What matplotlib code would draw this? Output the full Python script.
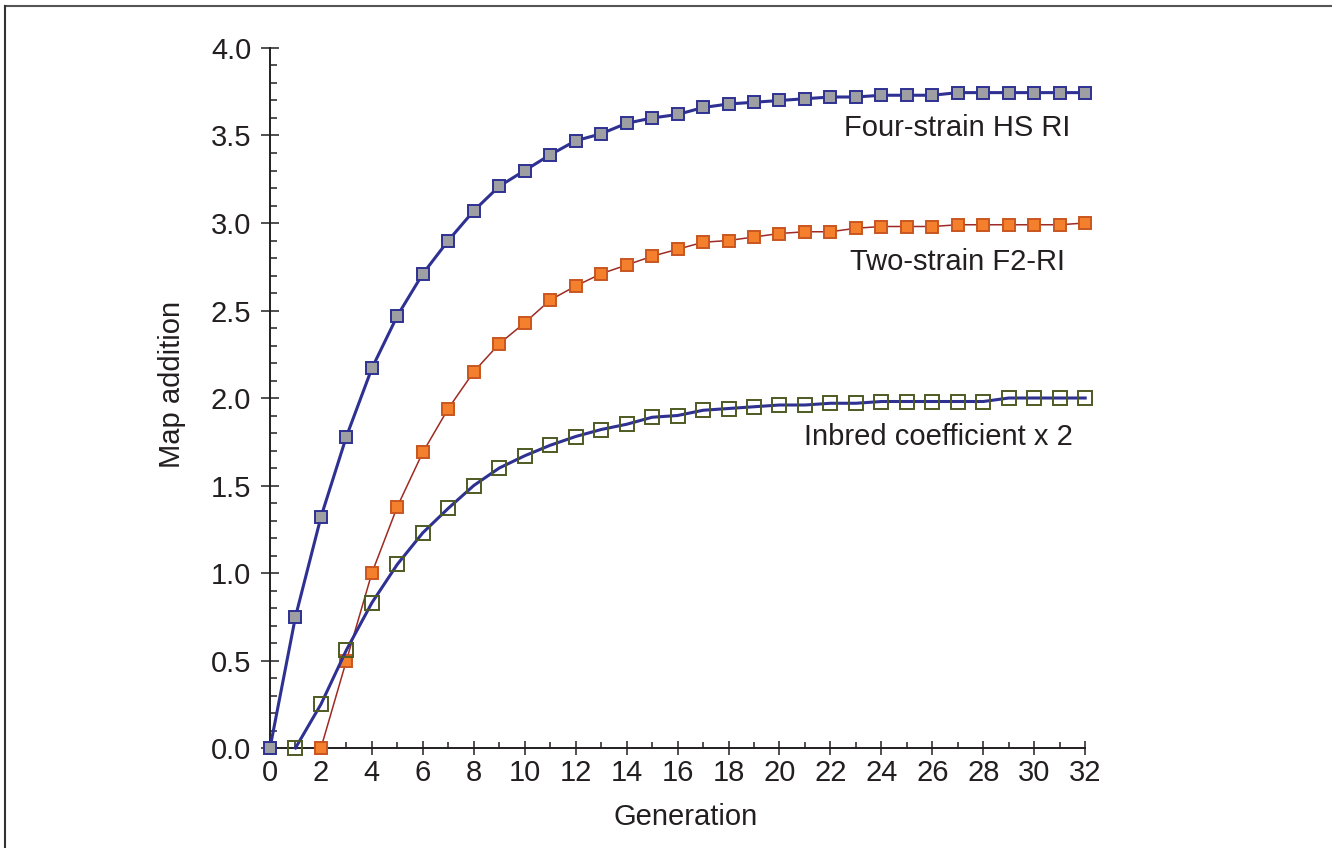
import matplotlib
matplotlib.use("Agg")
import matplotlib.pyplot as plt
from matplotlib.ticker import MultipleLocator, FormatStrFormatter
from matplotlib.lines import Line2D

plt.rcParams['font.family'] = ['Liberation Sans', 'DejaVu Sans']

# ---- data ----
gen_four = list(range(0, 33))
four_strain = [0.00, 0.75, 1.32, 1.78, 2.17, 2.47, 2.71, 2.90, 3.07, 3.21,
               3.30, 3.39, 3.47, 3.51, 3.57, 3.60, 3.62, 3.66, 3.68, 3.69,
               3.70, 3.71, 3.72, 3.72, 3.73, 3.73, 3.73, 3.745, 3.745, 3.745,
               3.745, 3.745, 3.745]

gen_two = list(range(2, 33))
two_strain = [0.00, 0.50, 1.00, 1.38, 1.69, 1.94, 2.15, 2.31, 2.43, 2.56,
              2.64, 2.71, 2.76, 2.81, 2.85, 2.89, 2.90, 2.92, 2.94, 2.95,
              2.95, 2.97, 2.98, 2.98, 2.98, 2.99, 2.99, 2.99, 2.99, 2.99,
              3.00]

gen_inbred = list(range(1, 33))
inbred_x2 = [0.00, 0.25, 0.56, 0.83, 1.05, 1.23, 1.37, 1.50, 1.60, 1.67,
             1.73, 1.78, 1.82, 1.85, 1.89, 1.90, 1.93, 1.94, 1.95, 1.96,
             1.96, 1.97, 1.97, 1.98, 1.98, 1.98, 1.98, 1.98, 2.00, 2.00,
             2.00, 2.00]

labels = ["Four-strain HS RI", "Two-strain F2-RI", "Inbred coefficient x 2"]
x_ticks = list(range(0, 33, 2))
y_ticks = [0.0, 0.5, 1.0, 1.5, 2.0, 2.5, 3.0, 3.5, 4.0]

# ---- style ----
navy = '#2e3192'
dark = '#231f20'

fig = plt.figure(figsize=(13.32, 8.48), dpi=100)
ax = fig.add_axes([0.2027, 0.1179, 0.612, 0.8255])

ax.plot(gen_four, four_strain, color=navy, lw=2.2, marker='s', ms=8.5,
        mfc='#9d9fa2', mec=navy, mew=1.4, clip_on=False, zorder=3)
ax.plot(gen_two, two_strain, color='#9e2a23', lw=1.1, marker='s', ms=8.5,
        mfc='#f47f2d', mec='#c9561f', mew=1.4, clip_on=False, zorder=3)
ax.plot(gen_inbred, inbred_x2, color=navy, lw=2.2, marker='s', ms=10,
        mfc='none', mec='#4d5a23', mew=1.4, clip_on=False, zorder=3)

ax.set_xlim(0, 32)
ax.set_ylim(0, 4)
ax.set_xticks(x_ticks)
ax.set_yticks(y_ticks)
ax.xaxis.set_minor_locator(MultipleLocator(1))
ax.yaxis.set_minor_locator(MultipleLocator(0.1))
ax.yaxis.set_major_formatter(FormatStrFormatter('%.1f'))

for s in ['top', 'right']:
    ax.spines[s].set_visible(False)
for s in ['left', 'bottom']:
    ax.spines[s].set_linewidth(1.4)
    ax.spines[s].set_color(dark)

ax.tick_params(axis='y', which='major', direction='inout', length=13, width=1.1,
               color=dark, labelsize=21, labelcolor=dark, pad=7)
ax.tick_params(axis='y', which='minor', direction='in', length=5, width=1.1, color=dark)
ax.tick_params(axis='x', which='major', direction='inout', length=9.5, width=1.1,
               color=dark, labelsize=21, labelcolor=dark, pad=3)
ax.tick_params(axis='x', which='minor', direction='in', length=4, width=1.1, color=dark)

ax.text(-0.12, 0.52, 'Map addition', rotation=90, ha='center', va='center',
        fontsize=21, color=dark, transform=ax.transAxes)
ax.text(0.51, -0.099, 'Generation', ha='center', va='center',
        fontsize=21, color=dark, transform=ax.transAxes)

ax.text(31.4, 3.54, labels[0], ha='right', va='center', fontsize=21, color=dark)
ax.text(31.2, 2.78, labels[1], ha='right', va='center', fontsize=21, color=dark)
ax.text(31.5, 1.78, labels[2], ha='right', va='center', fontsize=21, color=dark)

# figure frame (top and left edges visible)
fig.add_artist(Line2D([0.0035, 1.0], [0.9935, 0.9935], transform=fig.transFigure,
                      color='#555555', lw=1.5))
fig.add_artist(Line2D([0.0035, 0.0035], [0.0, 0.9935], transform=fig.transFigure,
                      color='#333333', lw=1.5))

fig.savefig('out.png', dpi=100)
